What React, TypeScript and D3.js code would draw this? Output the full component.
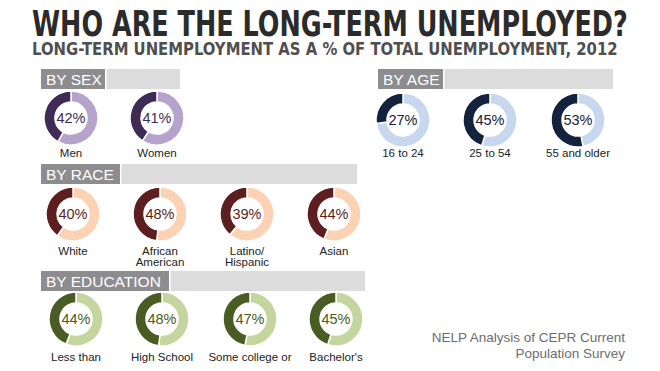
import React, { useRef, useEffect } from 'react';
import * as d3 from 'd3';

const sexLabels = [['Men'], ['Women']];
const sexValues = [42, 41];
const ageLabels = [['16 to 24'], ['25 to 54'], ['55 and older']];
const ageValues = [27, 45, 53];
const raceLabels = [['White'], ['African', 'American'], ['Latino/', 'Hispanic'], ['Asian']];
const raceValues = [40, 48, 39, 44];
const eduLabels = [['Less than'], ['High School'], ['Some college or'], ["Bachelor's"]];
const eduValues = [44, 48, 47, 45];

const groups = [
  { title: 'BY SEX', labels: sexLabels, values: sexValues, dark: '#3e2c55', light: '#b6a3cb',
    box: [41, 69, 64, 180], cx: [71, 157], cy: 118, labelY: 157 },
  { title: 'BY AGE', labels: ageLabels, values: ageValues, dark: '#13223d', light: '#c6d7ee',
    box: [378, 69, 65, 613], cx: [403, 490, 578], cy: 120, labelY: 157 },
  { title: 'BY RACE', labels: raceLabels, values: raceValues, dark: '#5c1e1e', light: '#fbd2b3',
    box: [41, 164, 79, 357], cx: [73, 160, 247, 334], cy: 214, labelY: 255 },
  { title: 'BY EDUCATION', labels: eduLabels, values: eduValues, dark: '#485c23', light: '#c4d59d',
    box: [41, 271, 128, 365], cx: [76, 162, 250, 336], cy: 319, labelY: 361 },
];

const App = () => {
  const ref = useRef<SVGSVGElement>(null);

  useEffect(() => {
    const svg = d3.select(ref.current);
    svg.selectAll('*').remove();
    const font = '"Liberation Sans", Arial, sans-serif';
    const narrow = '"Liberation Sans Narrow", "DejaVu Sans Condensed", sans-serif';

    // squeeze a heading horizontally to the width it has in the picture
    const heading = (txt: string, x: number, y: number, size: number, w: number, color: string) => {
      const t = svg.append('text')
        .style('font-family', narrow).style('font-weight', 'bold')
        .style('font-size', `${size}px`).style('fill', color)
        .text(txt);
      const len = (t.node() as SVGTextElement).getComputedTextLength() || w;
      t.attr('transform', `translate(${x},${y}) scale(${w / len},1)`);
    };

    heading('WHO ARE THE LONG-TERM UNEMPLOYED?', 32, 36, 35, 596, '#2b2b2b');
    heading('LONG-TERM UNEMPLOYMENT AS A % OF TOTAL UNEMPLOYMENT, 2012', 32, 55, 18.5, 586, '#4f4f4f');

    const arc = d3.arc<d3.PieArcDatum<number>>().innerRadius(16).outerRadius(27);
    const pie = d3.pie<number>().sort(null).value((d) => d);

    groups.forEach((g) => {
      const [bx, by, bw, bend] = g.box;
      svg.append('rect').attr('x', bx).attr('y', by).attr('width', bw).attr('height', 20).style('fill', '#8d8d8f');
      svg.append('rect').attr('x', bx + bw + 1.5).attr('y', by).attr('width', bend - bx - bw - 1.5).attr('height', 20).style('fill', '#dcdcdd');
      svg.append('text')
        .attr('x', bx + 5).attr('y', by + 16)
        .style('font-family', font).style('font-size', '15.5px').style('fill', '#fff')
        .text(g.title);

      g.values.forEach((v, i) => {
        const node = svg.append('g').attr('transform', `translate(${g.cx[i]},${g.cy})`);
        node.selectAll('path')
          .data(pie([100 - v, v]))
          .enter()
          .append('path')
          .attr('d', arc)
          .style('fill', (d, j) => (j === 0 ? g.light : g.dark))
          .style('stroke', '#fff')
          .style('stroke-width', 1.5);
        node.append('text')
          .attr('y', 5)
          .attr('text-anchor', 'middle')
          .style('font-family', font).style('font-size', '14.5px').style('fill', g.dark)
          .text(`${v}%`);

        g.labels[i].forEach((line, k) => {
          svg.append('text')
            .attr('x', g.cx[i]).attr('y', g.labelY + k * 11)
            .attr('text-anchor', 'middle')
            .style('font-family', font).style('font-size', '11.5px').style('fill', '#222')
            .text(line);
        });
      });
    });

    svg.append('text')
      .attr('x', 625).attr('y', 342)
      .attr('text-anchor', 'end')
      .style('font-family', font).style('font-size', '13.5px').style('fill', '#6d6d6d')
      .text('NELP Analysis of CEPR Current');
    svg.append('text')
      .attr('x', 625).attr('y', 358)
      .attr('text-anchor', 'end')
      .style('font-family', font).style('font-size', '13.5px').style('fill', '#6d6d6d')
      .text('Population Survey');
  }, []);

  return (
    <svg ref={ref} width={660} height={371}
      style={{ position: 'absolute', left: 0, top: 0, background: '#fff' }} />
  );
};

export default App;
